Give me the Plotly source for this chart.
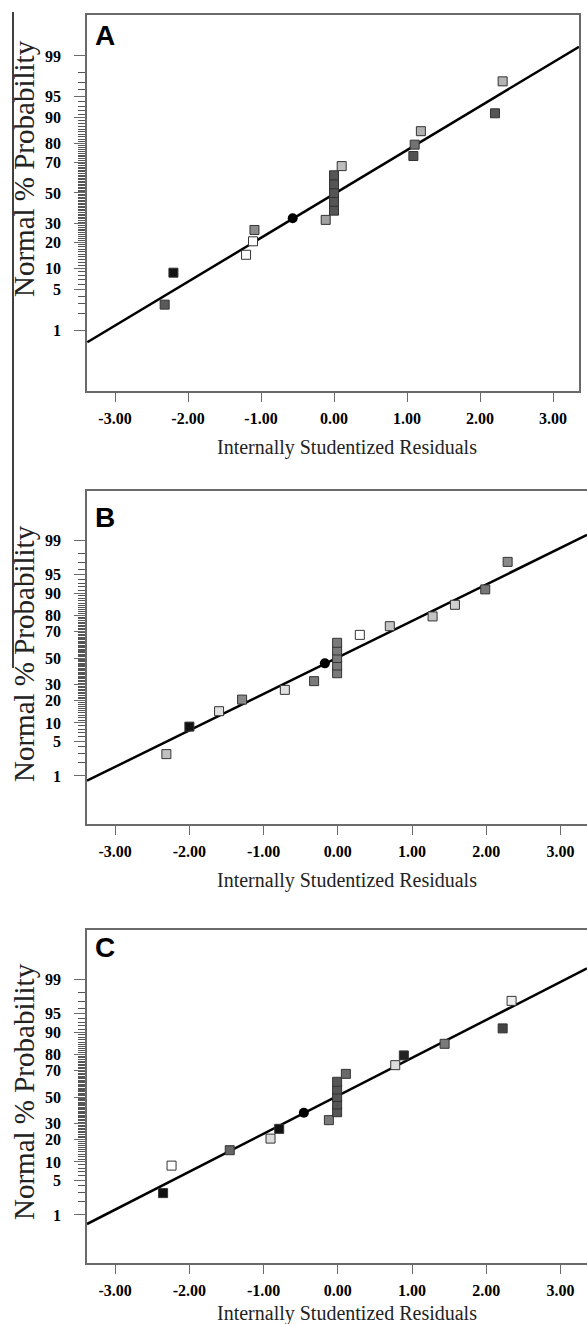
import plotly.graph_objects as go
from statistics import NormalDist

W, H = 587, 1324

# ---------------- data ----------------
prob_pct = [2.9, 8.8, 14.7, 20.6, 26.5, 32.4, 38.2, 44.1, 50.0, 55.9,
            61.8, 67.6, 73.5, 79.4, 85.3, 91.2, 97.1]

A_resid = [-2.32, -2.20, -1.205, -1.11, -1.09, -0.114, 0.0, 0.0, 0.0, 0.0, 0.0,
           0.105, 1.087, 1.105, 1.19, 2.205, 2.31]
A_colors = ['#5a5a5a', '#111111', '#ffffff', '#ffffff', '#8c8c8c', '#a0a0a0',
            '#555555', '#555555', '#555555', '#555555', '#555555',
            '#bdbdbd', '#525252', '#727272', '#b0b0b0', '#555555', '#b4b4b4']

B_resid = [-2.31, -2.00, -1.60, -1.29, -0.714, -0.32, -0.01, -0.01, -0.01, -0.01, -0.01,
           0.296, 0.70, 1.276, 1.577, 1.985, 2.287]
B_colors = ['#c0c0c0', '#111111', '#e0e0e0', '#8a8a8a', '#e0e0e0', '#7a7a7a',
            '#7a7a7a', '#7a7a7a', '#7a7a7a', '#7a7a7a', '#7a7a7a',
            '#ffffff', '#c4c4c4', '#c4c4c4', '#cfcfcf', '#777777', '#8a8a8a']

C_resid = [-2.354, -2.24, -1.456, -0.907, -0.79, -0.121, -0.01, -0.01, -0.01, -0.01, -0.01,
           0.108, 0.773, 0.889, 1.438, 2.22, 2.34]
C_colors = ['#111111', '#ffffff', '#666666', '#dddddd', '#111111', '#7a7a7a',
            '#555555', '#555555', '#555555', '#555555', '#555555',
            '#6a6a6a', '#dddddd', '#222222', '#7a7a7a', '#444444', '#eeeeee']

# black dot sitting on each reference line
dot_resid = [-0.566, -0.175, -0.458]
dot_pct = [33.4, 45.8, 37.8]

# reference line end points (residual, percent)
A_line_x = [-3.38, 3.356]
A_line_p = [0.562, 99.35]
B_line_x = [-3.379, 3.356]
B_line_p = [0.776, 99.24]
C_line_x = [-3.379, 3.356]
C_line_p = [0.612, 99.44]

major_pct = [1, 5, 10, 20, 30, 50, 70, 80, 90, 95, 99]
minor_pct = [p for p in range(1, 100) if p not in major_pct]
x_ticks = [-3, -2, -1, 0, 1, 2, 3]
x_tick_text = ['-3.00', '-2.00', '-1.00', '0.00', '1.00', '2.00', '3.00']

panel_letters = ['A', 'B', 'C']
x_title = 'Internally Studentized Residuals'
y_title = 'Normal % Probability'

# ---------------- helpers ----------------
nd = NormalDist()


def z(p):
    return nd.inv_cdf(p / 100.0)


def px(v):
    return v / W


def py(v):
    return 1 - v / H


SERIF = 'Liberation Serif'

panels = [
    dict(l=87, r=579, t=15, b=391, yr=[-3.362, 3.022], xr=[-3.384, 3.356], mirror_y=True,
         resid=A_resid, colors=A_colors, lx=A_line_x, lp=A_line_p,
         ytitle_c=169, xtitle_c=447, letter_c=36),
    dict(l=87, r=587, t=491, b=824, yr=[-3.274, 3.294], xr=[-3.379, 3.356], mirror_y=False,
         resid=B_resid, colors=B_colors, lx=B_line_x, lp=B_line_p,
         ytitle_c=654, xtitle_c=880, letter_c=517),
    dict(l=87, r=587, t=930, b=1263, yr=[-3.274, 3.294], xr=[-3.379, 3.356], mirror_y=False,
         resid=C_resid, colors=C_colors, lx=C_line_x, lp=C_line_p,
         ytitle_c=1092, xtitle_c=1313, letter_c=947),
]

fig = go.Figure()
layout = dict(width=W, height=H, margin=dict(l=0, r=0, t=0, b=0),
              paper_bgcolor='white', plot_bgcolor='white', showlegend=False)
annotations = []
shapes = []

for i, pn in enumerate(panels):
    k = '' if i == 0 else str(i + 1)
    xa, ya = 'x' + k, 'y' + k
    fig.add_trace(go.Scatter(x=pn['lx'], y=[z(p) for p in pn['lp']], mode='lines',
                             line=dict(color='black', width=2.5), xaxis=xa, yaxis=ya,
                             hoverinfo='skip'))
    fig.add_trace(go.Scatter(x=[dot_resid[i]], y=[z(dot_pct[i])], mode='markers',
                             marker=dict(symbol='circle', size=10, color='black'),
                             xaxis=xa, yaxis=ya))
    fig.add_trace(go.Scatter(x=pn['resid'], y=[z(p) for p in prob_pct], mode='markers',
                             marker=dict(symbol='square', size=9, color=pn['colors'],
                                         line=dict(color='#333333', width=1)),
                             xaxis=xa, yaxis=ya))

    layout['xaxis' + k] = dict(
        domain=[px(pn['l']), px(pn['r'])], anchor=ya, range=pn['xr'],
        showgrid=False, zeroline=False, showline=True, linecolor='#6a6a6a', linewidth=1.5,
        mirror=True, ticks='outside', ticklen=9, tickwidth=1, tickcolor='#6a6a6a',
        tickmode='array', tickvals=x_ticks, ticktext=x_tick_text,
        tickfont=dict(family=SERIF, size=16, color='black', weight='bold'),
        ticklabelstandoff=3)
    layout['yaxis' + k] = dict(
        domain=[py(pn['b']), py(pn['t'])], anchor=xa, range=pn['yr'],
        showgrid=False, zeroline=False, showline=True, linecolor='#6a6a6a', linewidth=1.5,
        mirror=pn['mirror_y'], ticks='outside', ticklen=11, tickwidth=1, tickcolor='#6a6a6a',
        tickmode='array', tickvals=[z(p) for p in major_pct],
        ticktext=[str(p) for p in major_pct],
        tickfont=dict(family=SERIF, size=16, color='black', weight='bold'),
        ticklabelstandoff=10,
        minor=dict(tickmode='array', tickvals=[z(p) for p in minor_pct], ticks='outside',
                   ticklen=7, tickwidth=1, tickcolor='#555555'))

    annotations.append(dict(text=x_title, xref='paper', yref='paper',
                            x=px(347), y=py(pn['xtitle_c']), xanchor='center', yanchor='middle',
                            showarrow=False, font=dict(family=SERIF, size=20, color='#222222')))
    annotations.append(dict(text=y_title, xref='paper', yref='paper', textangle=-90,
                            x=px(24), y=py(pn['ytitle_c']), xanchor='center', yanchor='middle',
                            showarrow=False, font=dict(family=SERIF, size=29, color='#222222')))
    annotations.append(dict(text='<b>%s</b>' % panel_letters[i], xref='paper', yref='paper',
                            x=px(93), y=py(pn['letter_c']), xanchor='left', yanchor='middle',
                            showarrow=False,
                            font=dict(family='Liberation Sans', size=28, color='black')))

shapes.append(dict(type='line', xref='paper', yref='paper', x0=px(13), x1=px(13),
                   y0=py(12), y1=py(668), line=dict(color='black', width=1.5)))

layout['annotations'] = annotations
layout['shapes'] = shapes
fig.update_layout(**layout)
fig.write_html('out.html', config={'displayModeBar': False},
               post_script="document.body.style.margin='0';"
                           "document.body.style.overflow='hidden';")
